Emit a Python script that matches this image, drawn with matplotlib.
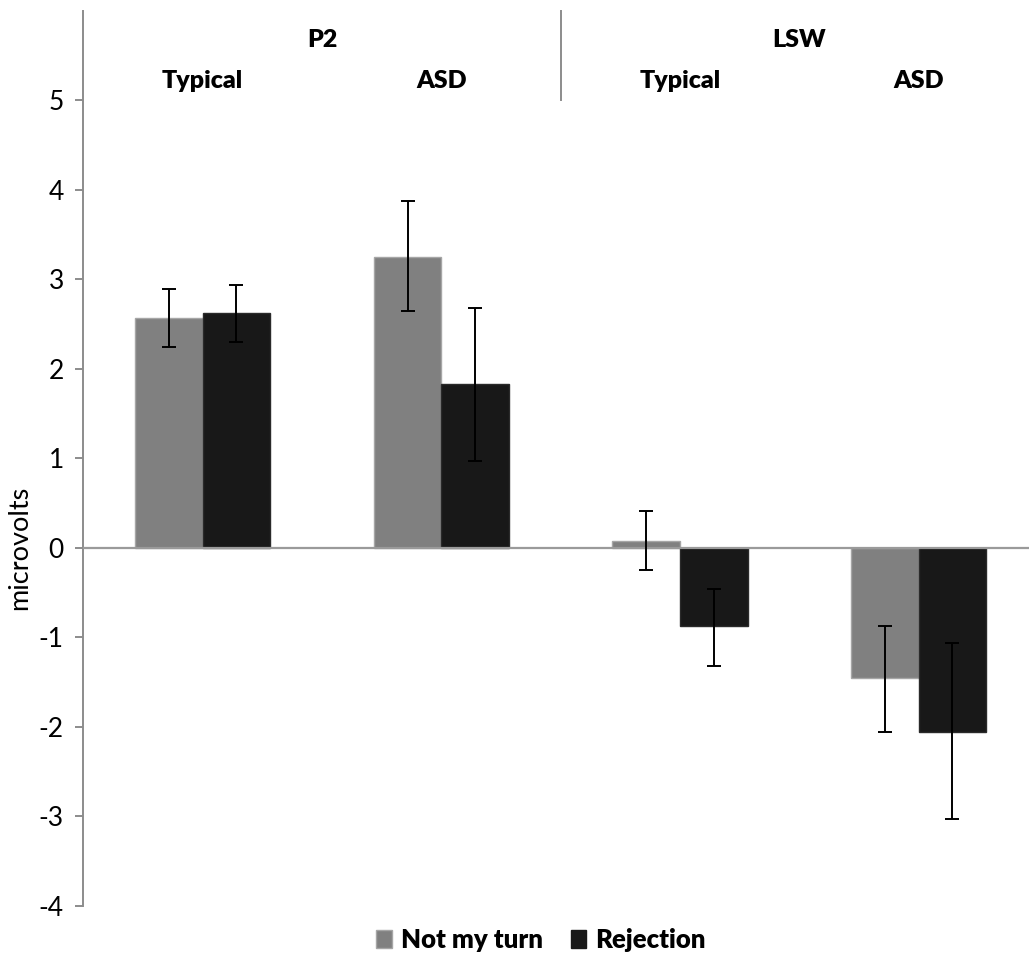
import matplotlib
matplotlib.use("Agg")
import matplotlib.pyplot as plt
from matplotlib.patches import Patch
import numpy as np

plt.rcParams['font.family'] = ['Lato', 'DejaVu Sans']

groups = ["Typical", "ASD", "Typical", "ASD"]
components = ["P2", "LSW"]
series_names = ["Not my turn", "Rejection"]
not_my_turn = [2.57, 3.25, 0.08, -1.46]
not_my_turn_lo = [2.24, 2.65, -0.25, -2.06]
not_my_turn_hi = [2.89, 3.87, 0.41, -0.87]
rejection = [2.62, 1.83, -0.88, -2.06]
rejection_lo = [2.30, 0.97, -1.32, -3.03]
rejection_hi = [2.93, 2.68, -0.46, -1.07]
yticks = [-4, -3, -2, -1, 0, 1, 2, 3, 4, 5]

W, H = 1029, 956
fig = plt.figure(figsize=(W / 100, H / 100), dpi=100)
left_px, axis_w_px = 83.3, 954.7
bot_px, top_px = 956 - 905.7, 10.7
ax = fig.add_axes([left_px / W, bot_px / H, axis_w_px / W, (956 - top_px - bot_px) / H])

x = np.arange(len(groups))
bw = 0.283
gray = "#808080"
black = "#181818"

nm = np.array(not_my_turn)
rj = np.array(rejection)
ax.bar(x - bw / 2, nm, bw, color=gray, edgecolor="#a6a6a6", linewidth=1.0, zorder=2)
ax.bar(x + bw / 2, rj, bw, color=black, edgecolor="#2a2a2a", linewidth=1.0, zorder=2)

err_nm = [nm - np.array(not_my_turn_lo), np.array(not_my_turn_hi) - nm]
err_rj = [rj - np.array(rejection_lo), np.array(rejection_hi) - rj]
ax.errorbar(x - bw / 2, nm, yerr=err_nm, fmt='none', ecolor='black', elinewidth=1.4,
            capsize=5, capthick=1.4, zorder=4)
ax.errorbar(x + bw / 2, rj, yerr=err_rj, fmt='none', ecolor='black', elinewidth=1.4,
            capsize=5, capthick=1.4, zorder=4)

ax.axhline(0, color="#9a9a9a", linewidth=1.6, zorder=3)

ax.set_xlim(-0.5, 3.5)
ax.set_ylim(-4, 6)
ax.set_yticks(yticks)
ax.set_yticklabels([str(t) for t in yticks], fontsize=19)
ax.set_xticks([])
for s in ["top", "right", "bottom"]:
    ax.spines[s].set_visible(False)
ax.spines["left"].set_color("#8c8c8c")
ax.spines["left"].set_linewidth(1.4)
ax.tick_params(axis='y', length=6, width=1.4, color="#8c8c8c", pad=8)

fig.text(20 / W, 1 - 548 / H, "microvolts", rotation=90, ha='center', va='center', fontsize=19.5)

# separator between components
ax.plot([1.5, 1.5], [5.0, 6.0], color="#8c8c8c", linewidth=1.4, clip_on=False)

# headers
for i, comp in enumerate(components):
    ax.text(2 * i + 0.5, 5.67, comp, ha='center', va='center', fontsize=18, fontweight='heavy')
for i, g in enumerate(groups):
    ax.text(i, 5.21, g, ha='center', va='center', fontsize=18, fontweight='heavy')

handles = [Patch(facecolor=gray, edgecolor="#a6a6a6"), Patch(facecolor=black, edgecolor=black)]
fig.legend(handles, series_names, loc='center', bbox_to_anchor=(541 / W, 1 - 940 / H),
           ncol=2, frameon=False, prop={'size': 18.5, 'weight': 'heavy'},
           handlelength=0.6, handleheight=0.7, handletextpad=0.35, columnspacing=1.1)

fig.savefig("out.png", dpi=100)
